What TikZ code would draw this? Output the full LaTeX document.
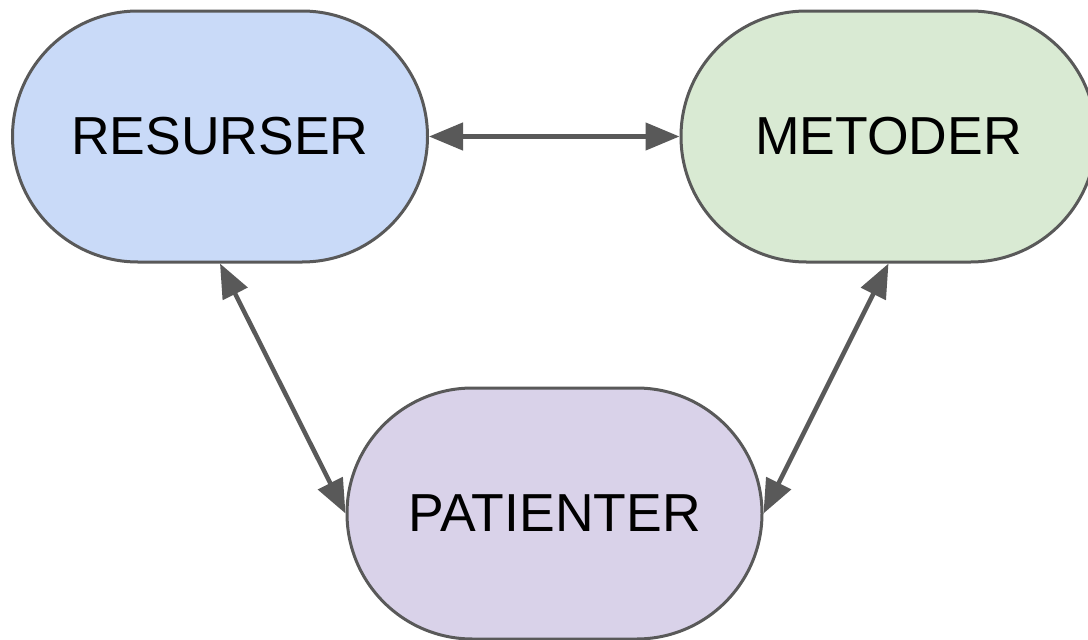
\documentclass[tikz,border=0pt]{standalone}
\usepackage{fontspec}
\setmainfont{Liberation Sans}
\usetikzlibrary{shapes.misc,arrows.meta}
\definecolor{edgegray}{HTML}{595959}
\definecolor{fillblue}{HTML}{C9DAF8}
\definecolor{fillgreen}{HTML}{D9EAD3}
\definecolor{fillpurple}{HTML}{D9D2E9}
\tikzset{
  pill/.style={rounded rectangle, draw=edgegray, line width=3pt,
    minimum width=415pt, minimum height=251pt, inner sep=0pt,
    font=\fontsize{53.5}{60}\selectfont, text=black},
  link/.style={draw=edgegray, line width=4.5pt,
    {Triangle[length=34pt,width=27pt]}-{Triangle[length=34pt,width=27pt]}}
}
\begin{document}
\begin{tikzpicture}[x=1pt,y=-1pt]
  \useasboundingbox (0,0) rectangle (1088,640);
  \node[pill, fill=fillblue]   (res) at (220,136.5) {RESURSER};
  \node[pill, fill=fillgreen]  (met) at (888.5,136.5) {METODER};
  \node[pill, fill=fillpurple] (pat) at (554.5,513.5) {PATIENTER};
  \draw[link] (res.east) -- (met.west);
  \draw[link] (res.south) -- (pat.west);
  \draw[link] (met.south) -- (pat.east);
\end{tikzpicture}
\end{document}
